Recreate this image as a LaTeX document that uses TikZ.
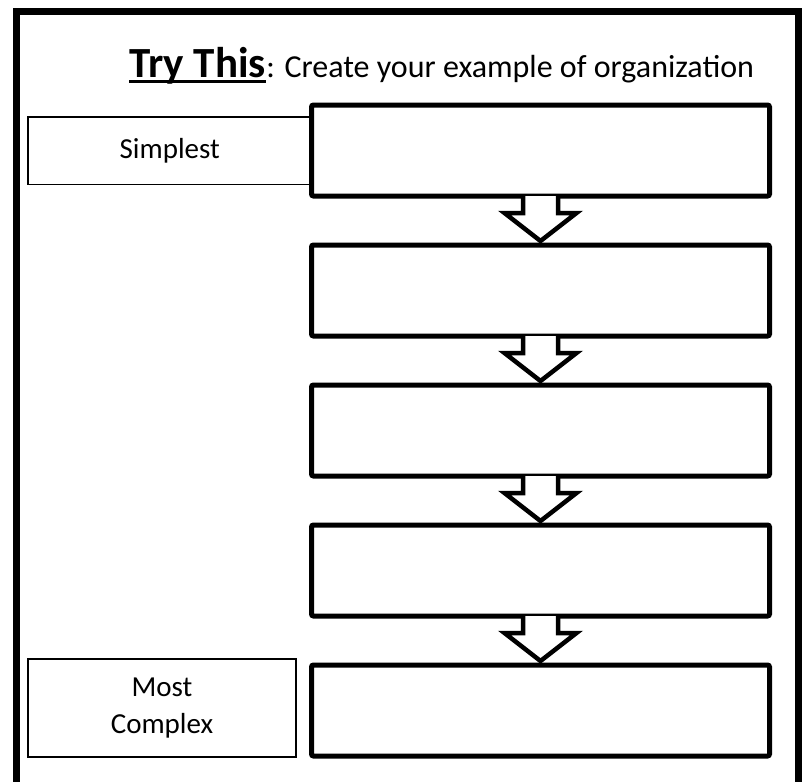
\documentclass[tikz,border=0pt]{standalone}
\usepackage{fontspec}
\setmainfont{Carlito}
\usetikzlibrary{calc}
\tikzset{
  frame/.style={line width=7pt, line join=miter},
  stepbox/.style={draw, line width=5pt, rounded corners=2pt, minimum width=458pt, minimum height=91pt, inner sep=0pt, fill=white},
  labelbox/.style={draw, line width=1.5pt, inner sep=0pt, align=center, font=\fontsize{29}{37}\selectfont},
  blockarrow/.style={draw, fill=white, line width=4.5pt, line join=miter},
}
\begin{document}
\begin{tikzpicture}[x=1pt,y=-1pt]
\useasboundingbox (0,0) rectangle (807,782);
\clip (0,0) rectangle (807,782);
\fill[white] (0,0) rectangle (807,782);
% outer frame (open at the bottom)
\draw[frame] (16,800) -- (16,11) -- (798.5,11) -- (798.5,800);
% title
\node[anchor=base west, inner sep=0pt, font=\bfseries\fontsize{43}{50}\selectfont] (try) at (129,77) {Try This};
\node[anchor=base west, inner sep=0pt, font=\fontsize{32}{38}\selectfont] (rest) at (try.base east) {: Create your example of organization};
\draw[line width=3.5pt] ([yshift=-4.5pt]try.base west) -- ([yshift=-4.5pt]try.base east);
% side labels
\node[labelbox, minimum width=283.5pt, minimum height=67.5pt] (simplest) at (169.75,150.75) {Simplest};
\node[labelbox, minimum width=268pt, minimum height=98pt] (complex) at (162,708) {Most\\Complex};
% steps
\foreach \k in {0,...,4} {
  \node[stepbox] (b\k) at (540.5,{150.5+140*\k}) {};
}
% block arrows
\foreach \k [evaluate=\k as \n using int(\k+1)] in {0,...,3} {
  \path[blockarrow]
    ($(b\k.south)+(-17.5,-2.5)$) -- ($(b\k.south)+(-17.5,14.5)$)
    -- ($(b\k.south)+(-36,14.5)$) -- ($(b\n.north)+(0,-1.5)$)
    -- ($(b\k.south)+(36,14.5)$) -- ($(b\k.south)+(17.5,14.5)$)
    -- ($(b\k.south)+(17.5,-2.5)$);
}
\end{tikzpicture}
\end{document}
